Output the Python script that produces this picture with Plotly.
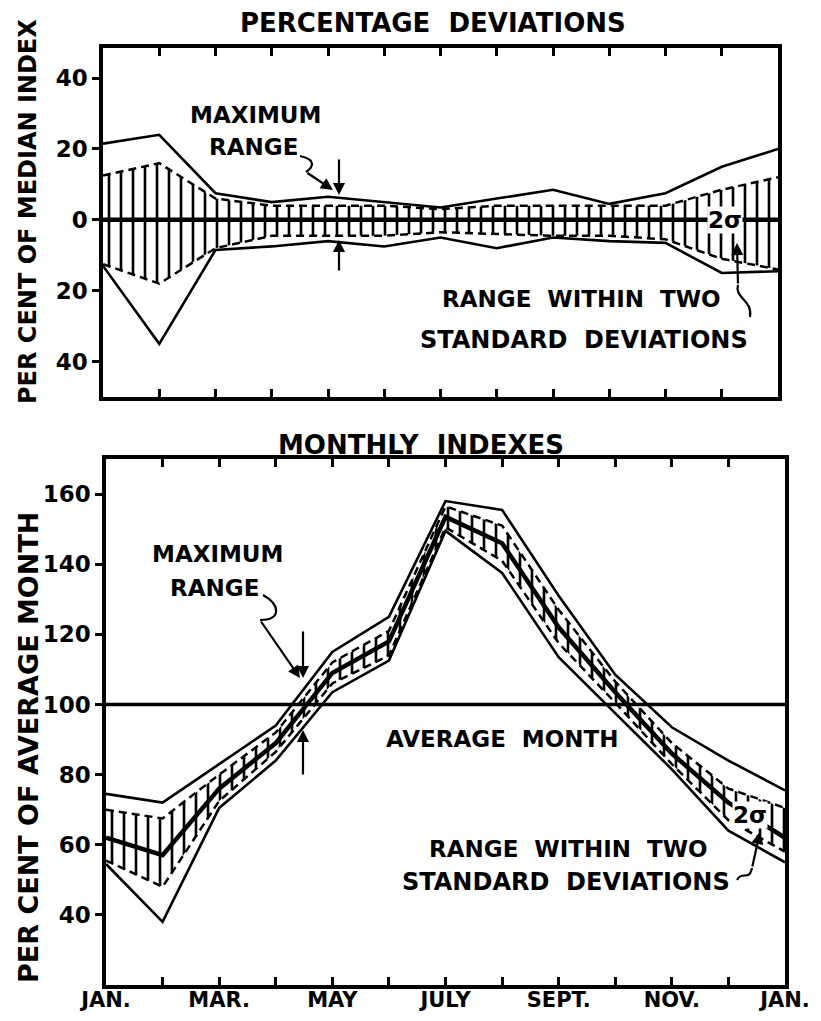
import plotly.graph_objects as go

# page is 821x1021 with an 8px body margin around the figure
PAGE_MARGIN = 8
W, H = 821 - 2 * PAGE_MARGIN, 1021 - 2 * PAGE_MARGIN

# ---------------- data ----------------
months = list(range(13))
month_labels = ["JAN.", "", "MAR.", "", "MAY", "", "JULY", "", "SEPT.", "", "NOV.", "", "JAN."]

# Top panel: percentage deviations from median index
dev_max_upper = [21.5, 24, 7.5, 5, 6.5, 5, 3.5, 6, 8.5, 4.5, 7.5, 15, 20]
dev_max_lower = [-13, -35, -8.5, -7.5, -6, -7.5, -5, -8, -5, -6, -6.5, -15, -14.5]
dev_2s_upper = [12.5, 16, 6, 4, 4, 4, 3, 4, 4, 4, 4, 8.5, 12]
dev_2s_lower = [-12.5, -18, -8, -4.5, -4.5, -4.5, -3.5, -4, -4.5, -4.5, -5.5, -11, -14]
dev_ticks = [40, 20, 0, -20, -40]
dev_ticktext = ["40", "20", "0", "20", "40"]

# Bottom panel: monthly indexes (per cent of average month)
idx_max_upper = [74.5, 72, 83, 94, 115, 125, 158, 155.5, 131, 108.5, 93.5, 84, 75.5]
idx_max_lower = [54.5, 38, 70.5, 84, 103.5, 112.5, 149.5, 137.5, 113.5, 97.5, 81.5, 64, 55]
idx_median = [62, 57, 76, 89, 109, 118, 153.5, 146, 122, 103.5, 86, 72, 62]
idx_2s_upper = [70, 67.5, 80, 92, 112, 121, 156.5, 151, 127, 106.5, 89, 76, 70.5]
idx_2s_lower = [55.5, 48, 72.5, 86.5, 106, 114, 150.5, 141, 117.5, 100.5, 83, 67, 58]
idx_ticks = [40, 60, 80, 100, 120, 140, 160]
average_month = 100

# ---------------- helpers ----------------
FONT = "DejaVu Sans"


def fx(x):  # page pixel x -> paper fraction
    return (x - PAGE_MARGIN) / W


def fy(y):  # page pixel y -> paper fraction
    return 1 - (y - PAGE_MARGIN) / H


def f(size):
    return dict(family=FONT, size=size, color="black", weight="bold")


fig = go.Figure()

hatch = dict(shape="|", size=12, solidity=0.22, fgcolor="black", bgcolor="white", fillmode="replace")
dash = "8px,5px"


def band(xa, ya, lo, hi, mx_hi, mx_lo, med=None):
    fig.add_trace(go.Scatter(x=months, y=lo, xaxis=xa, yaxis=ya, mode="lines",
                             line=dict(color="black", width=2.5, dash=dash), showlegend=False))
    fig.add_trace(go.Scatter(x=months, y=hi, xaxis=xa, yaxis=ya, mode="lines",
                             line=dict(color="black", width=2.5, dash=dash), fill="tonexty",
                             fillcolor="rgba(0,0,0,0)", fillpattern=hatch, showlegend=False))
    fig.add_trace(go.Scatter(x=months, y=mx_hi, xaxis=xa, yaxis=ya, mode="lines",
                             line=dict(color="black", width=2.6), showlegend=False))
    fig.add_trace(go.Scatter(x=months, y=mx_lo, xaxis=xa, yaxis=ya, mode="lines",
                             line=dict(color="black", width=2.6), showlegend=False))
    if med is not None:
        fig.add_trace(go.Scatter(x=months, y=med, xaxis=xa, yaxis=ya, mode="lines",
                                 line=dict(color="black", width=4.5), showlegend=False))


band("x", "y", dev_2s_lower, dev_2s_upper, dev_max_upper, dev_max_lower)
band("x2", "y2", idx_2s_lower, idx_2s_upper, idx_max_upper, idx_max_lower, idx_median)

# zero (median) line in top panel, average-month line in bottom panel
fig.add_shape(type="line", xref="x domain", yref="y", x0=0, x1=1, y0=0, y1=0,
              line=dict(color="black", width=4.5))
fig.add_shape(type="line", xref="x2 domain", yref="y2", x0=0, x1=1, y0=average_month, y1=average_month,
              line=dict(color="black", width=3.5))

# ---------------- axes ----------------
top_dom_x = [fx(103), fx(778)]
bot_dom_x = [fx(106), fx(785)]
top_dom_y = [fy(397), fy(48)]
bot_dom_y = [fy(985), fy(459)]

xcommon = dict(range=[0, 12], tickvals=months, ticktext=month_labels, ticks="inside", ticklen=8,
               tickwidth=2.5, tickcolor="black", showline=True, linewidth=3.5, linecolor="black",
               mirror="ticks", showgrid=False, zeroline=False, tickfont=f(21), automargin=False,
               ticklabelstandoff=-7)
ycommon = dict(ticks="outside", ticklen=7, tickwidth=2.5, tickcolor="black", showline=True,
               linewidth=3.5, linecolor="black", mirror=True, showgrid=False, zeroline=False,
               tickfont=f(23), automargin=False)
yright = dict(side="right", ticks="inside", ticklen=8, tickwidth=2.5, tickcolor="black",
              showticklabels=False, showline=False, showgrid=False, zeroline=False, automargin=False)

fig.update_layout(
    width=W, height=H,
    margin=dict(l=0, r=0, t=0, b=0, autoexpand=False),
    paper_bgcolor="white", plot_bgcolor="white",
    showlegend=False,
    xaxis=dict(domain=top_dom_x, anchor="y", showticklabels=False, **xcommon),
    xaxis2=dict(domain=bot_dom_x, anchor="y2", showticklabels=True, **xcommon),
    yaxis=dict(domain=top_dom_y, anchor="x", range=[-50, 48.5], tickvals=dev_ticks,
               ticktext=dev_ticktext, **ycommon),
    yaxis2=dict(domain=bot_dom_y, anchor="x2", range=[20, 170], tickvals=idx_ticks, **ycommon),
    yaxis3=dict(overlaying="y", anchor="x", range=[-50, 48.5], tickvals=dev_ticks, **yright),
    yaxis4=dict(overlaying="y2", anchor="x2", range=[20, 170], tickvals=idx_ticks, **yright),
)

# ---------------- text ----------------
texts = [
    ("PERCENTAGE  DEVIATIONS", 433, 23, 26, 0, None),
    ("MONTHLY  INDEXES", 421, 445, 26, 0, None),
    ("PER CENT OF MEDIAN INDEX", 28, 212, 24, -90, None),
    ("PER CENT OF AVERAGE MONTH", 28, 748, 27, -90, None),
    ("MAXIMUM", 255, 115, 23, 0, None),
    ("RANGE", 253, 147, 23, 0, None),
    ("RANGE  WITHIN  TWO", 581, 299, 23, 0, None),
    ("STANDARD  DEVIATIONS", 584, 340, 24, 0, None),
    ("2σ", 725, 220, 23, 0, "white"),
    ("MAXIMUM", 217, 554, 23, 0, None),
    ("RANGE", 214, 588, 23, 0, None),
    ("AVERAGE  MONTH", 502, 739, 23, 0, None),
    ("RANGE  WITHIN  TWO", 568, 849, 23, 0, None),
    ("STANDARD  DEVIATIONS", 566, 882, 24, 0, None),
    ("2σ", 750, 815, 23, 0, "white"),
]
for t, x, y, s, ang, bg in texts:
    fig.add_annotation(text=t, xref="paper", yref="paper", x=fx(x), y=fy(y), xanchor="center",
                       yanchor="middle", showarrow=False, font=f(s), textangle=ang,
                       bgcolor=bg if bg else "rgba(0,0,0,0)", borderpad=0)

# ---------------- pointer arrows ----------------
arrows = [  # tail (x, y) -> tip (x, y) in page pixels
    ((306, 172), (333, 190)),
    ((339, 158), (339, 195)),
    ((339, 272), (339, 240)),
    ((738, 285), (737, 243)),
    ((260, 620), (300, 678)),
    ((303, 630), (303, 678)),
    ((303, 776), (303, 730)),
    ((752, 868), (760, 832)),
]
for (tx, ty), (hx, hy) in arrows:
    fig.add_annotation(xref="paper", yref="paper", x=fx(hx), y=fy(hy), axref="pixel", ayref="pixel",
                       ax=tx - hx, ay=ty - hy, text="", showarrow=True, arrowhead=2, arrowsize=1.1,
                       arrowwidth=2.2, arrowcolor="black")

squiggles = [
    [(300, 156), (318, 160), (312, 168), (306, 172)],
    [(750, 317), (753, 300), (734, 298), (738, 285)],
    [(263, 595), (281, 605), (281, 620), (260, 620)],
    [(737, 880), (742, 870), (749, 882), (752, 868)],
]
for pts in squiggles:
    (x0, y0), (x1, y1), (x2, y2), (x3, y3) = pts
    path = "M {} {} C {} {}, {} {}, {} {}".format(fx(x0), fy(y0), fx(x1), fy(y1), fx(x2), fy(y2), fx(x3), fy(y3))
    fig.add_shape(type="path", xref="paper", yref="paper", path=path, line=dict(color="black", width=2.2))

fig.write_html("out.html")
